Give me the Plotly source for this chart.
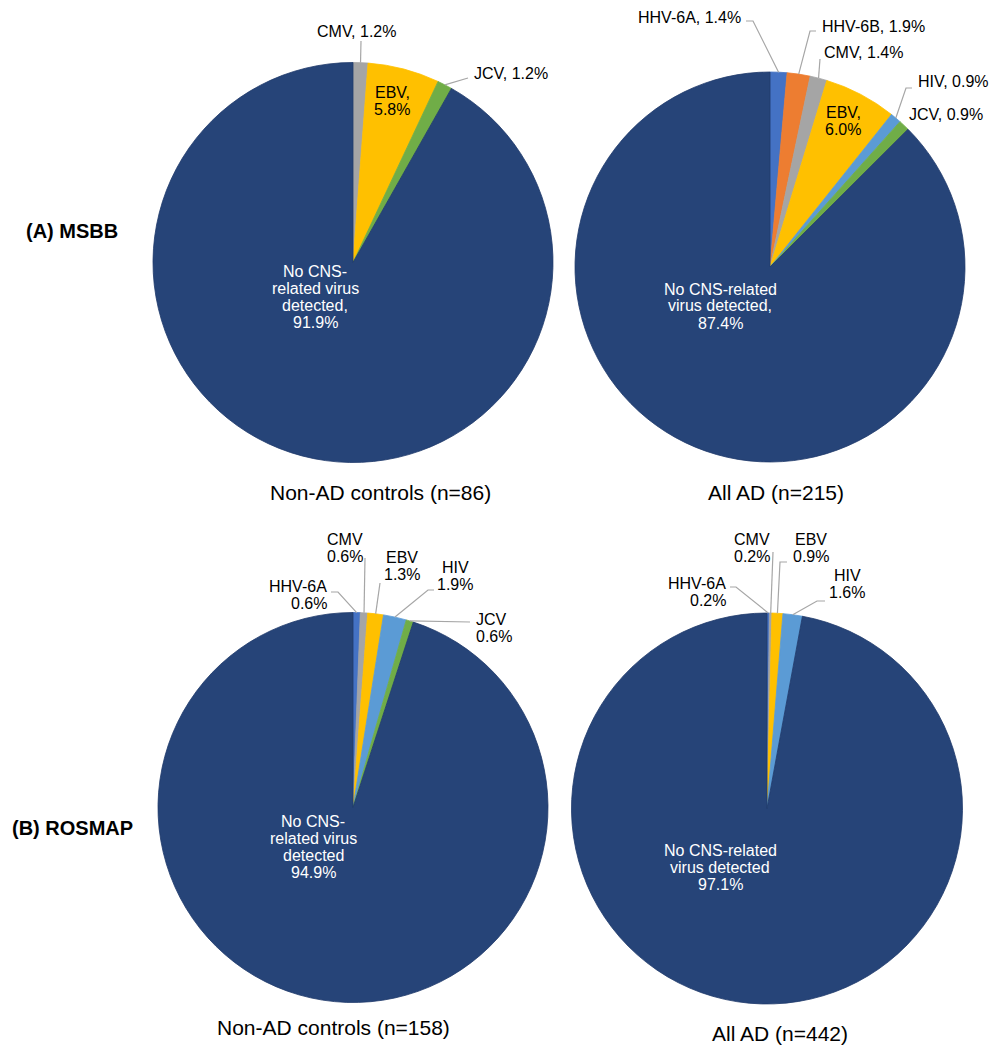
import math
import plotly.graph_objects as go

W, H = 997, 1050
OFF = 8  # default page body margin of the browser

# ---------------- DATA ----------------
tl_labels = ["CMV", "EBV", "JCV", "No CNS-related virus detected"]
tl_values = [1.2, 5.8, 1.2, 91.9]

tr_labels = ["HHV-6A", "HHV-6B", "CMV", "EBV", "HIV", "JCV", "No CNS-related virus detected"]
tr_values = [1.4, 1.9, 1.4, 6.0, 0.9, 0.9, 87.4]

bl_labels = ["HHV-6A", "CMV", "EBV", "HIV", "JCV", "No CNS-related virus detected"]
bl_values = [0.6, 0.6, 1.3, 1.9, 0.6, 94.9]

br_labels = ["HHV-6A", "CMV", "EBV", "HIV", "No CNS-related virus detected"]
br_values = [0.2, 0.2, 0.9, 1.6, 97.1]

pie_titles = ["Non-AD controls (n=86)", "All AD (n=215)",
              "Non-AD controls (n=158)", "All AD (n=442)"]
row_titles = ["(A) MSBB", "(B) ROSMAP"]

# ---------------- STYLE ----------------
COLORS = {
    "HHV-6A": "#4472C4",
    "HHV-6B": "#ED7D31",
    "CMV": "#A5A5A5",
    "EBV": "#FFC000",
    "HIV": "#5B9BD5",
    "JCV": "#70AD47",
    "No CNS-related virus detected": "#264478",
}
FONT = "Arial, Liberation Sans, Helvetica, sans-serif"
LEADER = "#A6A6A6"
NOCNS = "No CNS-related virus detected"

# pixel geometry (page pixels) of each pie: centre and radius, and sub-title position
pies = [
    dict(labels=tl_labels, values=tl_values, cx=353, cy=262.5, r=200, tx=380, ty=492),
    dict(labels=tr_labels, values=tr_values, cx=770, cy=267, r=195, tx=776, ty=493),
    dict(labels=bl_labels, values=bl_values, cx=353, cy=807.5, r=195, tx=333, ty=1027),
    dict(labels=br_labels, values=br_values, cx=767, cy=808.5, r=195.5, tx=780, ty=1033),
]

# label layout: slice, lines ({p} = percent), text centre, anchor, colour, leader elbow points
label_specs = [
    [
        ("CMV", ["CMV, {p}"], 356, 32, "center", "black", [(361, 41)]),
        ("JCV", ["JCV, {p}"], 472, 74, "left", "black", [(468, 78)]),
        ("EBV", ["EBV,", "{p}"], 392, 101, "center", "black", None),
        (NOCNS, ["No CNS-", "related virus", "detected,", "{p}"], 315, 297, "center", "white", None),
    ],
    [
        ("HHV-6A", ["HHV-6A, {p}"], 743, 17, "right", "black", [(753, 21), (746, 21)]),
        ("HHV-6B", ["HHV-6B, {p}"], 820, 27, "left", "black", [(810, 31), (816, 31)]),
        ("CMV", ["CMV, {p}"], 822, 53, "left", "black", [(820, 59)]),
        ("EBV", ["EBV,", "{p}"], 843, 121, "center", "black", None),
        ("HIV", ["HIV, {p}"], 916, 82, "left", "black", [(906, 88), (912, 88)]),
        ("JCV", ["JCV, {p}"], 907, 115, "left", "black", None),
        (NOCNS, ["No CNS-related", "virus detected,", "{p}"], 720, 306, "center", "white", None),
    ],
    [
        ("HHV-6A", ["HHV-6A", "{p}"], 329, 595, "right", "black", [(338, 592), (331, 592)]),
        ("CMV", ["CMV", "{p}"], 345, 548, "center", "black", [(365, 558)]),
        ("EBV", ["EBV", "{p}"], 402, 566, "center", "black", [(380, 583)]),
        ("HIV", ["HIV", "{p}"], 455, 576, "center", "black", [(428, 590), (434, 590)]),
        ("JCV", ["JCV", "{p}"], 474, 628, "left", "black", [(470, 622)]),
        (NOCNS, ["No CNS-", "related virus", "detected", "{p}"], 313, 847, "center", "white", None),
    ],
    [
        ("HHV-6A", ["HHV-6A", "{p}"], 728, 592, "right", "black", [(736, 587), (730, 587)]),
        ("CMV", ["CMV", "{p}"], 752, 548, "center", "black", [(773, 552)]),
        ("EBV", ["EBV", "{p}"], 811, 548, "center", "black", [(780, 562), (787, 562)]),
        ("HIV", ["HIV", "{p}"], 847, 584, "center", "black", [(817, 601), (825, 601)]),
        (NOCNS, ["No CNS-related", "virus detected", "{p}"], 720, 867, "center", "white", None),
    ],
]

LINE_H = 17
FW, FH = W - OFF, H - OFF   # figure size so that it fits the window after the page margin


def px(x, y):
    """page pixel -> paper coordinate"""
    return (x - OFF) / FW, 1 - (y - OFF) / FH


def edge_point(p, name):
    tot = sum(p["values"])
    cum = 0.0
    for lab, v in zip(p["labels"], p["values"]):
        if lab == name:
            mid = (cum + v / 2) / tot
            th = 2 * math.pi * mid
            return p["cx"] + p["r"] * math.sin(th), p["cy"] - p["r"] * math.cos(th)
        cum += v
    raise KeyError(name)


fig = go.Figure()
annotations = []
shapes = []

for p, specs, title in zip(pies, label_specs, pie_titles):
    x0, y0 = px(p["cx"] - p["r"], p["cy"] + p["r"])
    x1, y1 = px(p["cx"] + p["r"], p["cy"] - p["r"])
    cols = [COLORS[l] for l in p["labels"]]
    line_cols = ["#1F3A6B" if l == NOCNS else COLORS[l] for l in p["labels"]]
    fig.add_trace(go.Pie(
        labels=p["labels"], values=p["values"], sort=False,
        direction="clockwise", rotation=0, textinfo="none",
        marker=dict(colors=cols, line=dict(color=line_cols, width=0.8)),
        domain=dict(x=[x0, x1], y=[y0, y1]),
        showlegend=False, hoverinfo="label+percent",
    ))

    vals = dict(zip(p["labels"], p["values"]))
    for name, lines, tx, ty, anchor, color, leader in specs:
        pct = f"{vals[name]:.1f}%"
        n = len(lines)
        for i, ln in enumerate(lines):
            yy = ty + (i - (n - 1) / 2) * LINE_H
            ax_, ay_ = px(tx, yy)
            annotations.append(dict(
                x=ax_, y=ay_, xref="paper", yref="paper",
                text=ln.replace("{p}", pct), showarrow=False,
                xanchor=anchor, yanchor="middle",
                font=dict(family=FONT, size=16, color=color),
            ))
        if leader:
            pts = [edge_point(p, name)] + leader
            path = "M " + " L ".join(f"{px(a, b)[0]:.5f},{px(a, b)[1]:.5f}" for a, b in pts)
            shapes.append(dict(type="path", path=path, xref="paper", yref="paper",
                               line=dict(color=LEADER, width=1.2)))

    tx_, ty_ = px(p["tx"], p["ty"])
    annotations.append(dict(
        x=tx_, y=ty_, xref="paper", yref="paper", text=title, showarrow=False,
        xanchor="center", yanchor="middle",
        font=dict(family=FONT, size=21, color="black"),
    ))

for title, yy in zip(row_titles, [231, 828]):
    ax_, ay_ = px(72, yy)
    annotations.append(dict(
        x=ax_, y=ay_, xref="paper", yref="paper", text=f"<b>{title}</b>",
        showarrow=False, xanchor="center", yanchor="middle",
        font=dict(family=FONT, size=20, color="black"),
    ))

fig.update_layout(
    width=FW, height=FH,
    margin=dict(l=0, r=0, t=0, b=0),
    paper_bgcolor="white", plot_bgcolor="white",
    annotations=annotations, shapes=shapes,
)

fig.write_html("out.html")
